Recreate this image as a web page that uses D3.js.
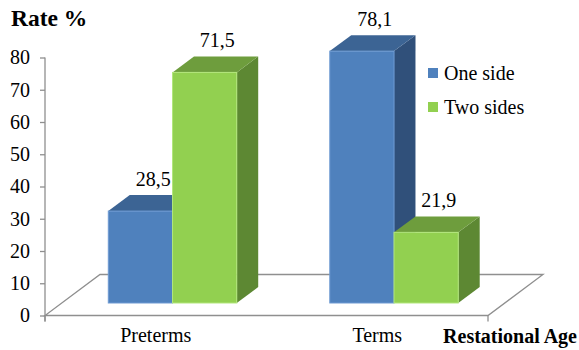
<!DOCTYPE html>
<html>
<head>
<meta charset="utf-8">
<script src="https://cdn.jsdelivr.net/npm/d3@7/dist/d3.min.js"></script>
</head>
<body style="margin:0">
<svg id="chart" width="579" height="350"></svg>
<script>
// Rate by gestational age, split by side
const categories = ["Preterms", "Terms"];
const seriesNames = ["One side", "Two sides"];
const oneSide = [28.5, 78.1];
const twoSides = [71.5, 21.9];
const yTicks = [0, 10, 20, 30, 40, 50, 60, 70, 80];

const seriesValues = [oneSide, twoSides];
const palette = [
  { front: "#4F81BD", top: "#3C6494", side: "#30507A", edge: "#6E9BD3" },
  { front: "#92D050", top: "#6E9D3D", side: "#5D8833", edge: "#B2E67C" }
];

const svg = d3.select("#chart");

// oblique projection of the floor depth
const depthX = 55, depthY = -41;
const f0 = 0.305, f1 = 0.695;      // bar front/back depth fraction
const proj = (x, y, f) => [x + depthX * f, y + depthY * f];

const x = d3.scaleBand().domain(categories).range([45, 488])
  .paddingInner(0.42).paddingOuter(0.21);
const xs = d3.scaleBand().domain(seriesNames).range([0, x.bandwidth()]);
const y = d3.scaleLinear().domain([0, 80]).range([315.5, 57.5]);

// all text in the serif face
const label = (sel, size, bold) => sel
  .attr("style", "font-family: 'Times New Roman'; font-size: " + size + "px;" +
    (bold ? " font-weight: bold;" : ""))
  .attr("fill", "#000");

// floor
const fl = [[45, y(0)], [488, y(0)], proj(488, y(0), 1), proj(45, y(0), 1)];
svg.append("polygon")
  .attr("points", fl.map(p => p.join(",")).join(" "))
  .attr("fill", "none").attr("stroke", "#8f8f8f").attr("stroke-width", 1.3);
// end ticks of the category axis
[45, 488].forEach(px => {
  svg.append("line").attr("x1", px).attr("x2", px)
    .attr("y1", y(0)).attr("y2", y(0) + 6)
    .attr("stroke", "#8f8f8f").attr("stroke-width", 1.3);
});

// value axis
const yAxis = svg.append("g").attr("transform", "translate(45,0)")
  .call(d3.axisLeft(y).tickValues(yTicks).tickSize(5).tickPadding(10).tickFormat(d3.format("d")));
yAxis.attr("font-family", null).attr("font-size", null);
yAxis.select(".domain").remove();
yAxis.selectAll(".tick line").attr("stroke", "#8f8f8f").attr("stroke-width", 1.3);
yAxis.selectAll(".tick text").attr("dy", "0.32em").call(label, 20, false);
svg.append("line").attr("x1", 45).attr("x2", 45)
  .attr("y1", y(80)).attr("y2", y(0) + 6)
  .attr("stroke", "#8f8f8f").attr("stroke-width", 1.3);

// bars, drawn left to right so later faces overlap earlier sides
const fmt = d3.formatLocale({ decimal: ",", thousands: ".", grouping: [3], currency: ["", ""] }).format(".1f");
const bars = [];
categories.forEach((c, ci) => {
  seriesNames.forEach((s, si) => {
    bars.push({ c, s, si, v: seriesValues[si][ci] });
  });
});

const pts = a => a.map(p => p.join(",")).join(" ");
const g = svg.append("g");
bars.forEach(b => {
  const xa = x(b.c) + xs(b.s), xb = xa + xs.bandwidth();
  const yv = y(b.v), y0 = y(0);
  const col = palette[b.si];
  g.append("polygon")
    .attr("points", pts([proj(xb, yv, f0), proj(xb, yv, f1), proj(xb, y0, f1), proj(xb, y0, f0)]))
    .attr("fill", col.side);
  g.append("polygon")
    .attr("points", pts([proj(xa, yv, f0), proj(xb, yv, f0), proj(xb, yv, f1), proj(xa, yv, f1)]))
    .attr("fill", col.top);
  const fa = proj(xa, yv, f0), fb = proj(xb, y0, f0);
  g.append("rect")
    .attr("x", fa[0]).attr("y", fa[1])
    .attr("width", fb[0] - fa[0]).attr("height", fb[1] - fa[1])
    .attr("fill", col.front).attr("stroke", col.edge).attr("stroke-width", 1);
  const lp = proj((xa + xb) / 2, yv, 0.5);
  const back = proj(xa, yv, f1);
  svg.append("text")
    .attr("x", lp[0] + 2).attr("y", back[1] - 9)
    .attr("text-anchor", "middle")
    .call(label, 20, false)
    .text(fmt(b.v));
});

// category labels
svg.selectAll(".cat").data(categories).enter().append("text")
  .attr("class", "cat")
  .attr("x", d => x(d) + x.bandwidth() / 2).attr("y", 342)
  .attr("text-anchor", "middle")
  .call(label, 20, false)
  .text(d => d);

// axis titles
svg.append("text").attr("x", 11).attr("y", 26)
  .call(label, 23.5, true).text("Rate %");
svg.append("text").attr("x", 577).attr("y", 343)
  .attr("text-anchor", "end")
  .call(label, 20, true)
  .text("Restational Age");

// legend
const lg = svg.append("g").attr("transform", "translate(428,68)");
seriesNames.forEach((s, i) => {
  lg.append("rect").attr("x", 0).attr("y", i * 34).attr("width", 10).attr("height", 10)
    .attr("fill", palette[i].front);
  lg.append("text").attr("x", 16).attr("y", i * 34 + 12)
    .call(label, 20, false).text(s);
});
</script>
</body>
</html>
